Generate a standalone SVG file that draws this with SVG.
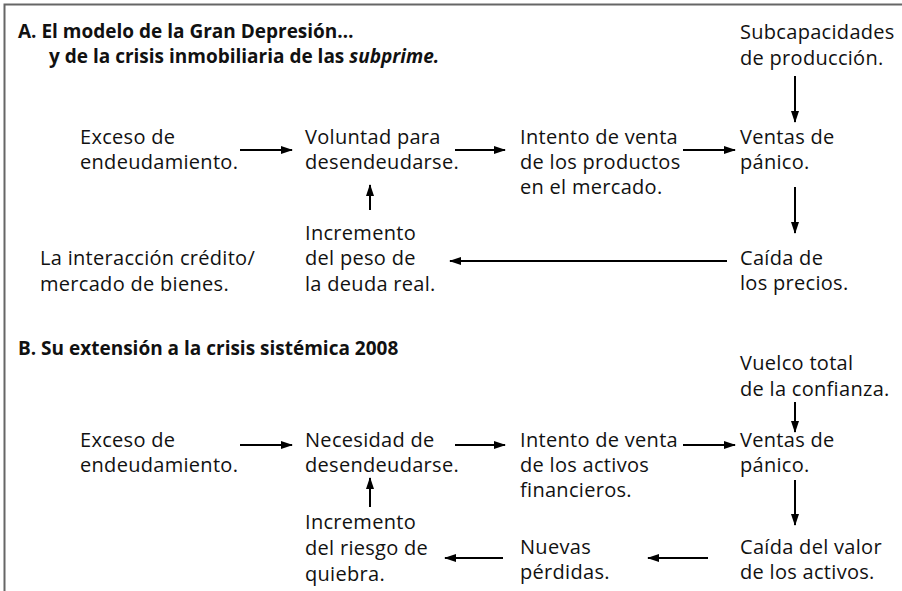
<svg xmlns="http://www.w3.org/2000/svg" width="902" height="591" viewBox="0 0 902 591">
<defs>
<marker id="ah" markerWidth="12" markerHeight="10" refX="11" refY="5" orient="auto" markerUnits="userSpaceOnUse">
<path d="M0,1 L12,5 L0,9 Z" fill="#000"/>
</marker>
<style>
text{font-family:"Open Sans","Noto Sans","DejaVu Sans",sans-serif;font-size:20px;letter-spacing:0.3px;fill:#111}
.t{font-weight:bold;font-size:19px;letter-spacing:0}
.c line{stroke:#000;stroke-width:2;marker-end:url(#ah)}
</style>
</defs>
<rect width="902" height="591" fill="#fff"/>
<path d="M4.5,591 V4.5 H902" fill="none" stroke="#666" stroke-width="2"/>
<g id="titleA"><text class="t" x="18" y="38">A. El modelo de la Gran Depresión…</text><text class="t" x="49" y="63">y de la crisis inmobiliaria de las <tspan font-style="italic">subprime.</tspan></text></g>
<g id="a_subcap"><text x="740" y="39">Subcapacidades</text><text x="740" y="65">de producción.</text></g>
<g id="a_exceso"><text x="80" y="144">Exceso de</text><text x="80" y="169">endeudamiento.</text></g>
<g id="a_voluntad"><text x="305" y="144">Voluntad para</text><text x="305" y="169">desendeudarse.</text></g>
<g id="a_intento"><text x="520" y="144">Intento de venta</text><text x="520" y="169">de los productos</text><text x="520" y="194">en el mercado.</text></g>
<g id="a_ventas"><text x="740" y="144">Ventas de</text><text x="740" y="169">pánico.</text></g>
<g id="a_interaccion"><text x="40" y="265">La interacción crédito/</text><text x="40" y="291">mercado de bienes.</text></g>
<g id="a_incremento"><text x="305" y="240">Incremento</text><text x="305" y="265">del peso de</text><text x="305" y="291">la deuda real.</text></g>
<g id="a_caida"><text x="740" y="265">Caída de</text><text x="740" y="290">los precios.</text></g>
<g id="titleB"><text class="t" x="18" y="355">B. Su extensión a la crisis sistémica 2008</text></g>
<g id="b_vuelco"><text x="740" y="370">Vuelco total</text><text x="740" y="396">de la confianza.</text></g>
<g id="b_exceso"><text x="80" y="447">Exceso de</text><text x="80" y="472">endeudamiento.</text></g>
<g id="b_necesidad"><text x="305" y="447">Necesidad de</text><text x="305" y="472">desendeudarse.</text></g>
<g id="b_intento"><text x="520" y="447">Intento de venta</text><text x="520" y="472">de los activos</text><text x="520" y="497">financieros.</text></g>
<g id="b_ventas"><text x="740" y="447">Ventas de</text><text x="740" y="472">pánico.</text></g>
<g id="b_incremento"><text x="305" y="529">Incremento</text><text x="305" y="555">del riesgo de</text><text x="305" y="581">quiebra.</text></g>
<g id="b_nuevas"><text x="520" y="554">Nuevas</text><text x="520" y="579">pérdidas.</text></g>
<g id="b_caida"><text x="740" y="554">Caída del valor</text><text x="740" y="579">de los activos.</text></g>
<g id="connectors" class="c">
<line x1="795" y1="76" x2="795" y2="122"/>
<line x1="240" y1="150" x2="292" y2="150"/>
<line x1="455" y1="150" x2="505" y2="150"/>
<line x1="683" y1="150" x2="735" y2="150"/>
<line x1="795" y1="187" x2="795" y2="233"/>
<line x1="727" y1="261" x2="450" y2="261"/>
<line x1="370" y1="210" x2="370" y2="185"/>
<line x1="795" y1="402" x2="795" y2="432"/>
<line x1="240" y1="445" x2="292" y2="445"/>
<line x1="455" y1="445" x2="505" y2="445"/>
<line x1="683" y1="445" x2="735" y2="445"/>
<line x1="795" y1="480" x2="795" y2="525"/>
<line x1="708" y1="558" x2="648" y2="558"/>
<line x1="503" y1="558" x2="445" y2="558"/>
<line x1="370" y1="507" x2="370" y2="478"/>
</g>
</svg>
